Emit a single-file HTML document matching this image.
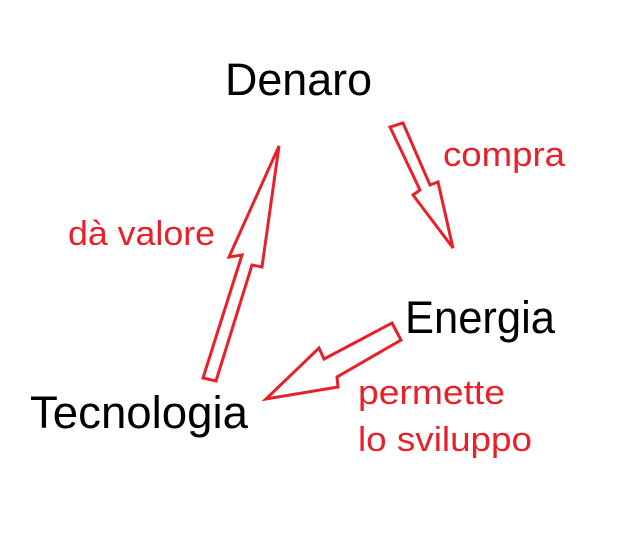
<!DOCTYPE html>
<html><head><style>html,body{margin:0;padding:0;background:#fff;}svg{display:block}</style></head>
<body>
<svg width="632" height="542" xmlns="http://www.w3.org/2000/svg">
<g fill="#fff" stroke="#e8202a" stroke-width="3" stroke-linejoin="miter">
<polygon points="203,378 242,255 229,257 279,146 262,267 252,265 216,381"/>
<polygon points="390,127 403,123 430,185 438,182 453,248 413,195 420,190"/>
<polygon points="392,323 401,340 337,377 338,387 266,399 319,348 324,359"/>
</g>
<g font-family="Liberation Sans, sans-serif" fill="#000" font-size="45">
<text x="225" y="95" textLength="147" lengthAdjust="spacingAndGlyphs">Denaro</text>
<text x="405" y="333" textLength="150" lengthAdjust="spacingAndGlyphs">Energia</text>
<text x="30" y="428" textLength="218" lengthAdjust="spacingAndGlyphs">Tecnologia</text>
</g>
<g font-family="Liberation Sans, sans-serif" fill="#e8202a" font-size="34">
<text x="443" y="166" textLength="122" lengthAdjust="spacingAndGlyphs">compra</text>
<text x="68" y="245" textLength="147" lengthAdjust="spacingAndGlyphs">dà valore</text>
<text x="358" y="404" textLength="147" lengthAdjust="spacingAndGlyphs">permette</text>
<text x="358" y="451" textLength="174" lengthAdjust="spacingAndGlyphs">lo sviluppo</text>
</g>
</svg>
</body></html>
